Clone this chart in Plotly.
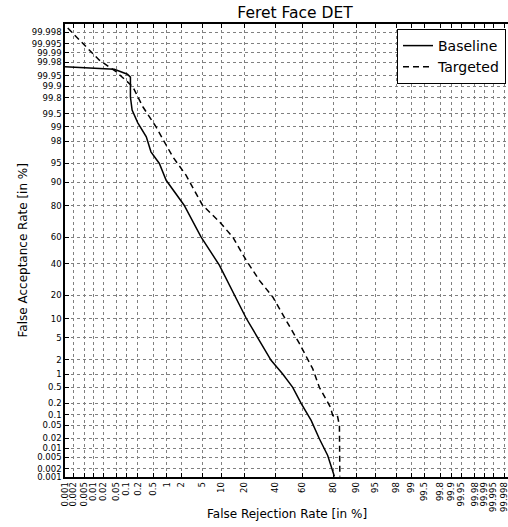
from statistics import NormalDist
import plotly.graph_objects as go

# ---- data (percent) ----
tick_values = [0.001, 0.002, 0.005, 0.01, 0.02, 0.05, 0.1, 0.2, 0.5, 1, 2, 5, 10, 20, 40,
               60, 80, 90, 95, 98, 99, 99.5, 99.8, 99.9, 99.95, 99.98, 99.99, 99.995, 99.998]
tick_labels = ["0.001", "0.002", "0.005", "0.01", "0.02", "0.05", "0.1", "0.2", "0.5", "1", "2",
               "5", "10", "20", "40", "60", "80", "90", "95", "98", "99", "99.5", "99.8", "99.9",
               "99.95", "99.98", "99.99", "99.995", "99.998"]

baseline_frr = [0.001, 0.044, 0.105, 0.127, 0.127, 0.141, 0.2, 0.33, 0.43, 0.68, 0.97, 2.3, 4.7,
                9.3, 20.8, 28.7, 36.7, 45.3, 52.9, 59.2, 66.4, 71.9, 77.0, 80.7]
baseline_far = [99.973, 99.968, 99.955, 99.945, 99.807, 99.59, 99.19, 98.38, 96.84, 94.94, 90.7,
                80.3, 60.1, 39.0, 10.1, 4.5, 1.93, 1.0, 0.5, 0.2, 0.069, 0.0196, 0.0057, 0.00105]

targeted_frr = [0.00126, 0.0153, 0.05, 0.147, 0.27, 0.57, 1.35, 2.5, 5.0, 9.3, 14.2, 20.8, 28.7,
                37.9, 47.9, 57.9, 67.5, 71.9, 78.5, 79.8, 82.2, 83.2, 83.4]
targeted_far = [99.9986, 99.983, 99.962, 99.898, 99.66, 99.0, 96.1, 92.2, 80.3, 70.5, 60.1, 42.7,
                28.7, 19.1, 9.4, 4.0, 1.3, 0.5, 0.16, 0.095, 0.095, 0.049, 0.00105]

nd = NormalDist()


def probit(vals):
    return [nd.inv_cdf(v / 100.0) for v in vals]


W, H = 508, 527
ML, MR, MT, MB = 65, 0, 24, 50
pw, ph = W - ML - MR, H - MT - MB

fig = go.Figure()
fig.add_trace(go.Scatter(x=probit(baseline_frr), y=probit(baseline_far), mode="lines",
                         name="Baseline", line=dict(color="black", width=1.5)))
fig.add_trace(go.Scatter(x=probit(targeted_frr), y=probit(targeted_far), mode="lines",
                         name="Targeted", line=dict(color="black", width=1.5, dash="6px,4px")))

lo = nd.inv_cdf(0.00001)
xscale = 52.5
xhi = lo + pw / xscale

axis_common = dict(
    tickvals=probit(tick_values), ticktext=tick_labels,
    ticks="inside", ticklen=4, tickcolor="black", tickwidth=1,
    showline=True, linecolor="black", linewidth=1.5,
    showgrid=True, gridcolor="#808080", griddash="dot", gridwidth=1,
    zeroline=False, ticklabeloverflow="allow",
    tickfont=dict(size=8.5, color="black", family="DejaVu Sans"),
)

fig.update_xaxes(range=[lo, xhi], tickangle=-90, mirror="ticks", **axis_common)
fig.update_yaxes(range=[lo, -lo], mirror=False, **axis_common)

fig.update_layout(
    width=W, height=H,
    margin=dict(l=ML, r=MR, t=MT, b=MB, autoexpand=False),
    plot_bgcolor="white", paper_bgcolor="white",
    font=dict(family="DejaVu Sans", color="black"),
    title=dict(text="Feret Face DET", x=295 / W, xanchor="center", xref="container",
               y=1 - 12.5 / H, yanchor="middle", yref="container",
               font=dict(size=15.5, family="DejaVu Sans", color="black")),
    legend=dict(x=(506 - ML) / pw, xanchor="right", y=(MT + ph - 29) / ph, yanchor="top",
                bordercolor="black", borderwidth=1, bgcolor="white", tracegroupgap=0,
                font=dict(size=14, family="DejaVu Sans", color="black")),
    showlegend=True,
    annotations=[
        dict(text="False Rejection Rate [in %]", xref="paper", yref="paper",
             x=(287 - ML) / pw, y=-(514 - (MT + ph)) / ph, xanchor="center", yanchor="middle",
             showarrow=False, font=dict(size=12, family="DejaVu Sans", color="black")),
        dict(text="False Acceptance Rate [in %]", xref="paper", yref="paper",
             x=(22 - ML) / pw, y=0.5, xanchor="center", yanchor="middle", textangle=-90,
             showarrow=False, font=dict(size=12, family="DejaVu Sans", color="black")),
    ],
)

fig.write_html("out.html", config={"displayModeBar": False},
               post_script="document.body.style.margin='0';")
